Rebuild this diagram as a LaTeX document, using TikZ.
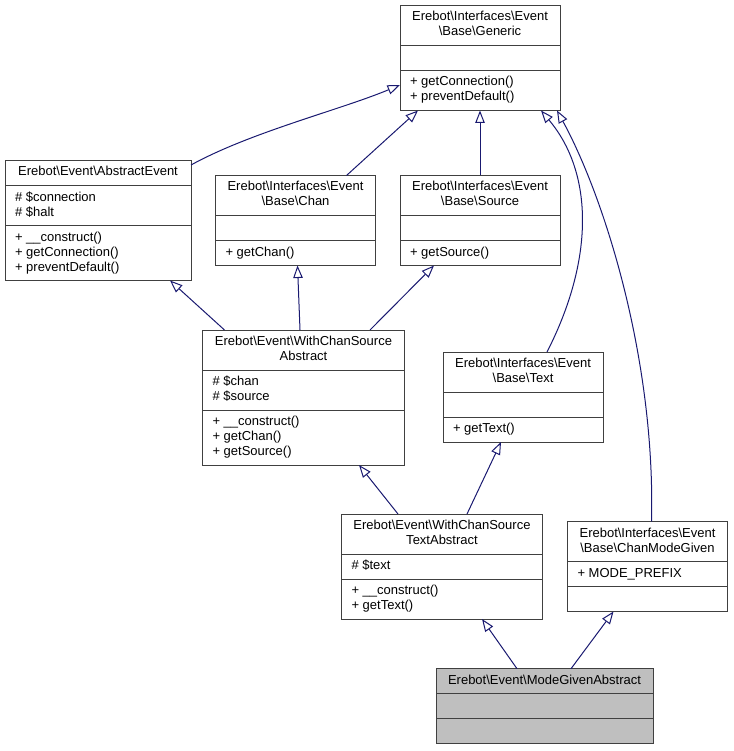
\documentclass[tikz,border=0pt]{standalone}
\usepackage{fontspec}
\setmainfont{Liberation Sans}
\usetikzlibrary{arrows.meta,shapes.multipart}

\definecolor{edgeblue}{HTML}{191970}
\definecolor{boxline}{HTML}{404040}
\definecolor{boxgray}{HTML}{BFBFBF}
\newcommand{\bsl}{\textbackslash}

\begin{document}
\begin{tikzpicture}[
  x=1pt,y=-1pt,
  cls/.style={rectangle split,rectangle split parts=3,draw=boxline,line width=1pt,fill=white,
    anchor=north west,inner xsep=10pt,inner ysep=4.5pt,outer sep=0pt,
    rectangle split part align={center,left,left},
    rectangle split empty part height=15pt,rectangle split empty part depth=0pt,
    font=\fontsize{13}{15}\selectfont},
  inherit/.style={draw=edgeblue,line width=1pt,-{Triangle[length=12.5pt,width=9.5pt,fill=white]}}
]
  \useasboundingbox (0,0) rectangle (733,751);

  % classes
  \node[cls,minimum width=160pt] (generic) at (400,5.5)
    {\begin{tabular}{@{}c@{}}Erebot\bsl Interfaces\bsl Event\\\bsl Base\bsl Generic\end{tabular}\nodepart{two}\nodepart{three}\begin{tabular}{@{}l@{}}+ getConnection()\\+ preventDefault()\end{tabular}};
  \node[cls,minimum width=186pt] (abstractevent) at (5,160.5)
    {\begin{tabular}{@{}c@{}}Erebot\bsl Event\bsl AbstractEvent\end{tabular}\nodepart{two}\begin{tabular}{@{}l@{}}\# \$connection\\\# \$halt\end{tabular}\nodepart{three}\begin{tabular}{@{}l@{}}+ \_\_construct()\\+ getConnection()\\+ preventDefault()\end{tabular}};
  \node[cls,minimum width=160pt] (chan) at (215.5,175.5)
    {\begin{tabular}{@{}c@{}}Erebot\bsl Interfaces\bsl Event\\\bsl Base\bsl Chan\end{tabular}\nodepart{two}\nodepart{three}\begin{tabular}{@{}l@{}}+ getChan()\end{tabular}};
  \node[cls,minimum width=160pt] (source) at (400,175.5)
    {\begin{tabular}{@{}c@{}}Erebot\bsl Interfaces\bsl Event\\\bsl Base\bsl Source\end{tabular}\nodepart{two}\nodepart{three}\begin{tabular}{@{}l@{}}+ getSource()\end{tabular}};
  \node[cls,minimum width=202pt] (wcsa) at (202.5,330)
    {\begin{tabular}{@{}c@{}}Erebot\bsl Event\bsl WithChanSource\\Abstract\end{tabular}\nodepart{two}\begin{tabular}{@{}l@{}}\# \$chan\\\# \$source\end{tabular}\nodepart{three}\begin{tabular}{@{}l@{}}+ \_\_construct()\\+ getChan()\\+ getSource()\end{tabular}};
  \node[cls,minimum width=160pt] (text) at (443,352)
    {\begin{tabular}{@{}c@{}}Erebot\bsl Interfaces\bsl Event\\\bsl Base\bsl Text\end{tabular}\nodepart{two}\nodepart{three}\begin{tabular}{@{}l@{}}+ getText()\end{tabular}};
  \node[cls,minimum width=201pt] (textabstract) at (341.5,514)
    {\begin{tabular}{@{}c@{}}Erebot\bsl Event\bsl WithChanSource\\TextAbstract\end{tabular}\nodepart{two}\begin{tabular}{@{}l@{}}\# \$text\end{tabular}\nodepart{three}\begin{tabular}{@{}l@{}}+ \_\_construct()\\+ getText()\end{tabular}};
  \node[cls,minimum width=160pt] (chanmodegiven) at (567.5,521.5)
    {\begin{tabular}{@{}c@{}}Erebot\bsl Interfaces\bsl Event\\\bsl Base\bsl ChanModeGiven\end{tabular}\nodepart{two}\begin{tabular}{@{}l@{}}+ MODE\_PREFIX\end{tabular}\nodepart{three}};
  \node[cls,minimum width=217pt,fill=boxgray] (mga) at (436,668.7)
    {\begin{tabular}{@{}c@{}}Erebot\bsl Event\bsl ModeGivenAbstract\end{tabular}\nodepart{two}\nodepart{three}};

  % inheritance
  \draw[inherit] ([yshift=-4.5pt]abstractevent.north east) .. controls +(60,-33) and +(-60,25) .. ([yshift=-79.5pt]generic.north west);
  \draw[inherit] ([xshift=51pt]chan.north) -- ([xshift=-62pt]generic.south);
  \draw[inherit] (source.north) -- (generic.south);
  \draw[inherit] ([xshift=24pt]text.north) .. controls +(47,-92) and +(53,63) .. ([xshift=-19pt]generic.south east);
  \draw[inherit] ([xshift=4pt]chanmodegiven.north) .. controls +(4,-161) and +(48,88) .. ([xshift=-3pt]generic.south east);
  \draw[inherit] ([xshift=22pt]wcsa.north west) -- ([xshift=-21pt]abstractevent.south east);
  \draw[inherit] ([xshift=-3.5pt]wcsa.north) -- ([xshift=2pt]chan.south);
  \draw[inherit] ([xshift=-34.5pt]wcsa.north east) -- ([xshift=34pt]source.south west);
  \draw[inherit] ([xshift=56.5pt]textabstract.north west) -- ([xshift=55.5pt]wcsa.south);
  \draw[inherit] ([xshift=-75.5pt]textabstract.north east) -- ([xshift=-22pt]text.south);
  \draw[inherit] ([xshift=81pt]mga.north west) -- ([xshift=40pt]textabstract.south);
  \draw[inherit] ([xshift=-82pt]mga.north east) -- ([xshift=-34pt]chanmodegiven.south);
\end{tikzpicture}
\end{document}
